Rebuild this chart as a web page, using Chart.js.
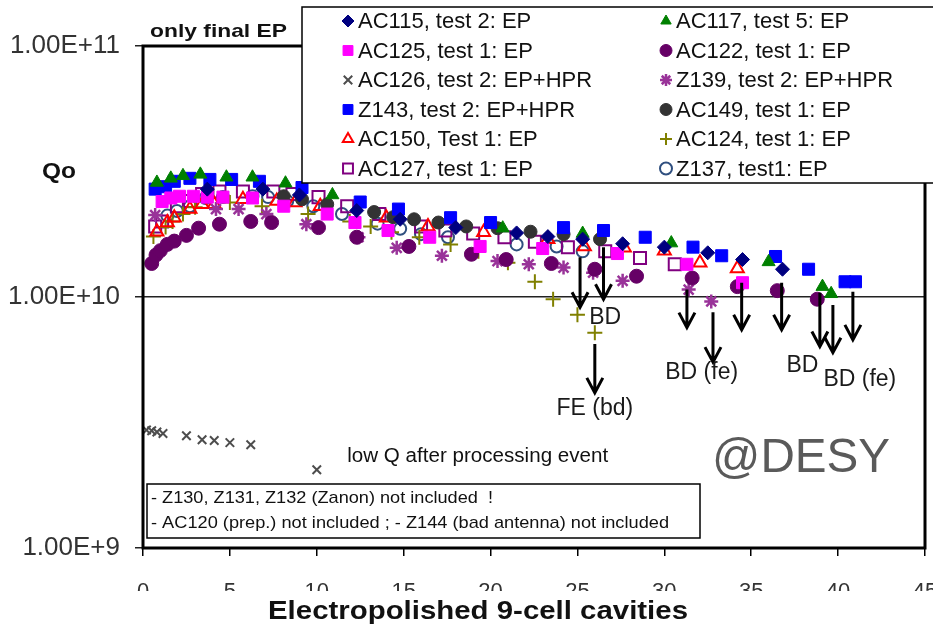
<!DOCTYPE html>
<html>
<head>
<meta charset="utf-8">
<script src="https://cdn.jsdelivr.net/npm/chart.js@4.4.1/dist/chart.umd.min.js"></script>
<style>
html,body{margin:0;padding:0;background:#fff;}
</style>
</head>
<body>
<canvas id="c" width="933" height="629"></canvas>
<script>
// Q0 vs Eacc [MV/m] for each cavity test: [Eacc, Q0]
const AC115 = [[3.7,2.69e10],[6.9,2.69e10],[9.0,2.55e10],[12.3,2.21e10],[14.8,2.04e10],[18.0,1.89e10],[21.5,1.80e10],[23.3,1.74e10],[25.3,1.70e10],[27.6,1.63e10],[30.0,1.58e10],[32.5,1.50e10],[34.5,1.41e10],[36.8,1.29e10]];
const AC117 = [[0.8,2.86e10],[1.6,2.97e10],[2.3,3.04e10],[3.3,3.08e10],[4.8,3.0e10],[6.3,3.0e10],[8.2,2.84e10],[10.9,2.55e10],[20.7,1.88e10],[25.3,1.79e10],[30.4,1.64e10],[36.0,1.38e10],[39.1,1.10e10],[39.6,1.03e10]];
const AC125 = [[1.1,2.40e10],[1.6,2.48e10],[2.1,2.52e10],[2.9,2.52e10],[3.7,2.50e10],[4.6,2.50e10],[6.3,2.48e10],[8.1,2.30e10],[10.6,2.14e10],[12.2,1.98e10],[14.1,1.84e10],[16.5,1.73e10],[19.4,1.59e10],[23.0,1.56e10],[27.3,1.49e10],[31.3,1.35e10],[34.5,1.14e10]];
const AC122 = [[0.5,1.36e10],[0.75,1.47e10],[1.0,1.53e10],[1.4,1.62e10],[1.8,1.67e10],[2.5,1.76e10],[3.2,1.88e10],[4.4,1.95e10],[6.2,2.0e10],[7.4,1.98e10],[10.1,1.89e10],[12.3,1.73e10],[15.3,1.59e10],[18.9,1.48e10],[20.9,1.41e10],[23.5,1.36e10],[26.0,1.29e10],[28.4,1.21e10],[31.6,1.19e10],[34.2,1.10e10],[36.5,1.06e10],[38.8,9.8e9]];
const AC126 = [[0.2,2.95e9],[0.5,2.93e9],[0.8,2.90e9],[1.15,2.86e9],[2.5,2.80e9],[3.4,2.70e9],[4.1,2.68e9],[5.0,2.63e9],[6.2,2.58e9],[10.0,2.05e9]];
const Z139 = [[0.7,2.12e10],[4.2,2.24e10],[5.5,2.24e10],[7.1,2.14e10],[9.4,1.95e10],[12.4,1.73e10],[14.6,1.57e10],[17.2,1.46e10],[20.4,1.39e10],[22.2,1.35e10],[24.2,1.31e10],[25.9,1.25e10],[27.6,1.16e10],[31.4,1.07e10],[32.7,9.6e9]];
const Z143 = [[0.7,2.69e10],[1.3,2.75e10],[1.8,2.89e10],[2.7,2.97e10],[3.85,2.94e10],[5.1,2.94e10],[6.7,2.89e10],[9.15,2.73e10],[12.5,2.39e10],[14.7,2.24e10],[17.7,2.07e10],[20.0,1.98e10],[24.2,1.89e10],[26.5,1.84e10],[28.9,1.73e10],[31.65,1.58e10],[33.3,1.46e10],[36.4,1.45e10],[38.3,1.29e10],[40.4,1.15e10],[41.0,1.15e10]];
const AC149 = [[8.1,2.52e10],[9.15,2.45e10],[10.6,2.34e10],[13.3,2.18e10],[14.4,2.08e10],[15.6,2.04e10],[17.0,1.98e10],[18.6,1.91e10],[20.4,1.88e10],[22.3,1.82e10],[24.2,1.78e10],[26.3,1.70e10]];
const AC150 = [[0.8,1.82e10],[1.4,1.98e10],[1.8,2.07e10],[2.7,2.24e10],[3.4,2.34e10],[4.1,2.34e10],[5.75,2.45e10],[7.7,2.41e10],[8.75,2.38e10],[10.2,2.30e10],[14.0,2.07e10],[16.4,1.91e10],[19.6,1.81e10],[23.3,1.70e10],[25.4,1.59e10],[27.7,1.57e10],[30.0,1.53e10],[32.05,1.37e10],[34.2,1.30e10]];
const AC124 = [[0.6,1.74e10],[1.3,1.90e10],[1.7,2.0e10],[2.3,2.14e10],[3.0,2.28e10],[5.0,2.38e10],[6.85,2.30e10],[9.5,2.14e10],[11.9,2.0e10],[13.1,1.91e10],[14.3,1.81e10],[15.9,1.73e10],[17.7,1.62e10],[19.3,1.52e10],[21.0,1.37e10],[22.55,1.15e10],[23.6,9.8e9],[25.0,8.5e9],[26.0,7.2e9]];
const AC127 = [[0.7,1.91e10],[1.1,2.0e10],[1.95,2.30e10],[2.7,2.41e10],[3.4,2.57e10],[4.4,2.63e10],[5.75,2.63e10],[7.5,2.63e10],[8.6,2.57e10],[10.1,2.50e10],[11.75,2.30e10],[13.6,2.14e10],[16.0,1.91e10],[17.4,1.84e10],[19.0,1.79e10],[20.8,1.73e10],[22.55,1.66e10],[24.45,1.58e10],[26.6,1.52e10],[28.6,1.43e10],[30.6,1.35e10]];
const Z137 = [[1.4,2.11e10],[1.95,2.20e10],[2.7,2.30e10],[3.6,2.48e10],[4.6,2.50e10],[6.3,2.52e10],[7.2,2.50e10],[8.3,2.41e10],[9.8,2.30e10],[11.45,2.14e10],[13.5,1.96e10],[14.8,1.87e10],[16.0,1.78e10],[17.55,1.73e10],[21.5,1.62e10],[23.8,1.59e10],[25.3,1.52e10]];

const xTicks = [0,5,10,15,20,25,30,35,40,45];
const yTicks = [1e9,1e10,1e11];

// breakdown / field emission markers: [Eacc, Q0 start, Q0 end]
const ARROWS = [[25.15,1.44e10,9.1e9],[26.5,1.58e10,9.8e9],[26.0,6.5e9,4.15e9],[31.3,1.07e10,7.55e9],[32.8,8.7e9,5.5e9],[34.45,1.14e10,7.4e9],[36.75,1.14e10,7.4e9],[38.95,1.04e10,6.35e9],[39.7,9.3e9,6.0e9],[40.85,1.05e10,6.75e9]];
const ARROW_LABELS = [['BD',26.6,8.3e9],['FE (bd)',26.0,3.6e9],['BD (fe)',32.15,5.0e9],['BD',37.95,5.35e9],['BD (fe)',41.25,4.7e9]];

const series = [
  {label:'AC115, test 2: EP',    data:AC115, style:'rectRot',  color:'#000080', fill:true,  r:7},
  {label:'AC117, test 5: EP',    data:AC117, style:'triangle', color:'#008000', fill:true,  r:7.5},
  {label:'AC125, test 1: EP',    data:AC125, style:'rect',     color:'#ff00ff', fill:true,  r:8.5},
  {label:'AC122, test 1: EP',    data:AC122, style:'circle',   color:'#660066', fill:true,  r:7},
  {label:'AC126, test 2: EP+HPR',data:AC126, style:'crossRot', color:'#4d4d4d', fill:false, r:6, bw:2},
  {label:'Z139, test 2: EP+HPR', data:Z139,  style:'star',     color:'#993399', fill:false, r:7, bw:2.5},
  {label:'Z143, test 2: EP+HPR', data:Z143,  style:'rect',     color:'#0000ff', fill:true,  r:8.5},
  {label:'AC149, test 1: EP',    data:AC149, style:'circle',   color:'#333333', fill:true,  r:6.5},
  {label:'AC150, Test 1: EP',    data:AC150, style:'triangle', color:'#ff0000', fill:false, r:7.5, bw:2},
  {label:'AC124, test 1: EP',    data:AC124, style:'cross',    color:'#808000', fill:false, r:7.5, bw:2},
  {label:'AC127, test 1: EP',    data:AC127, style:'rect',     color:'#800080', fill:false, r:8.5, bw:2},
  {label:'Z137, test1: EP',      data:Z137,  style:'circle',   color:'#2f4f7f', fill:false, r:6, bw:2}
];

function fitText(ctx, str, x, y, width, align){
  const k = width / ctx.measureText(str).width;
  ctx.save();
  ctx.translate(x, y);
  ctx.scale(k, 1);
  ctx.textAlign = align || 'left';
  ctx.fillText(str, 0, 0);
  ctx.restore();
}

function marker(ctx, s, x, y, r){
  ctx.fillStyle = s.fill ? s.color : 'rgba(0,0,0,0)';
  ctx.strokeStyle = s.color;
  ctx.lineWidth = s.bw || 1;
  Chart.helpers.drawPoint(ctx, {pointStyle:s.style, radius:r, rotation:0, borderWidth:s.bw || 1}, x, y);
}

const overlay = {
  id:'overlay',
  afterDatasetsDraw(chart){
    const {ctx, scales:{x, y}} = chart;
    ctx.save();
    ctx.strokeStyle = '#000';
    ctx.lineWidth = 3;
    ARROWS.forEach(([e, q0, q1]) => {
      const px = x.getPixelForValue(e), y0 = y.getPixelForValue(q0), y1 = y.getPixelForValue(q1);
      ctx.beginPath();
      ctx.moveTo(px, y0); ctx.lineTo(px, y1);
      ctx.moveTo(px - 8, y1 - 15); ctx.lineTo(px, y1); ctx.lineTo(px + 8, y1 - 15);
      ctx.stroke();
    });
    ctx.fillStyle = '#1a1a1a';
    ctx.font = '23px Arial, "Liberation Sans"';
    ctx.textAlign = 'center';
    ctx.textBaseline = 'middle';
    ARROW_LABELS.forEach(([t, e, q]) => ctx.fillText(t, x.getPixelForValue(e), y.getPixelForValue(q)));
    ctx.textBaseline = 'alphabetic';
    ctx.fillStyle = '#111';
    ctx.font = '20px Arial, "Liberation Sans"';
    fitText(ctx, 'low Q after processing event', x.getPixelForValue(11.75), 462, 261);
    ctx.fillStyle = '#5a5a5a';
    ctx.font = '48px Arial, "Liberation Sans"';
    fitText(ctx, '@DESY', x.getPixelForValue(32.75), 472, 178);
    ctx.restore();
  },
  afterDraw(chart){
    const {ctx, chartArea:a} = chart;
    ctx.save();
    // thick plot frame
    ctx.strokeStyle = '#000';
    ctx.lineWidth = 3;
    ctx.strokeRect(a.left, a.top, a.right - a.left, a.bottom - a.top);
    // lower part of the x tick labels is cut off
    ctx.fillStyle = '#fff';
    ctx.fillRect(100, 591, 833, 7);

    ctx.fillStyle = '#111';
    ctx.font = 'bold 25px Arial, "Liberation Sans"';
    fitText(ctx, 'Electropolished 9-cell cavities', 478, 619, 420, 'center');
    ctx.font = 'bold 22px Arial, "Liberation Sans"';
    fitText(ctx, 'Qo', 42, 178, 34);
    ctx.font = 'bold 19px Arial, "Liberation Sans"';
    fitText(ctx, 'only final EP', 150, 37, 137);

    // notes box
    ctx.fillStyle = '#fff';
    ctx.fillRect(147, 484, 553, 54);
    ctx.lineWidth = 1.5;
    ctx.strokeRect(147, 484, 553, 54);
    ctx.fillStyle = '#111';
    ctx.font = '17px Arial, "Liberation Sans"';
    fitText(ctx, '- Z130, Z131, Z132 (Zanon) not included  !', 151, 503, 342);
    fitText(ctx, '- AC120 (prep.) not included ; - Z144 (bad antenna) not included', 151, 528, 518);

    // legend, two columns
    ctx.fillStyle = '#fff';
    ctx.fillRect(302, 7, 660, 176);
    ctx.strokeStyle = '#000';
    ctx.lineWidth = 1.5;
    ctx.strokeRect(302, 7, 660, 176);
    ctx.font = '22px Arial, "Liberation Sans"';
    ctx.textBaseline = 'middle';
    series.forEach((s, i) => {
      const col = i % 2, row = Math.floor(i / 2);
      const mx = col ? 666 : 348, my = 21 + row * 29.5;
      marker(ctx, s, mx, my, s.style === 'rect' ? 7 : 6);
      ctx.fillStyle = '#111';
      ctx.textAlign = 'left';
      ctx.fillText(s.label, mx + 10, my + 1);
    });
    ctx.restore();
  }
};

new Chart(document.getElementById('c'), {
  type:'scatter',
  data:{
    datasets:series.map(s => ({
      label:s.label,
      data:s.data.map(([e, q]) => ({x:e, y:q})),
      pointStyle:s.style,
      pointRadius:s.r,
      pointHoverRadius:s.r,
      backgroundColor:s.fill ? s.color : 'rgba(0,0,0,0)',
      borderColor:s.color,
      borderWidth:s.bw || 1
    }))
  },
  options:{
    responsive:false,
    animation:false,
    devicePixelRatio:1,
    layout:{autoPadding:false, padding:{top:46, right:8, left:0, bottom:0}},
    plugins:{legend:{display:false}, tooltip:{enabled:false}},
    scales:{
      x:{
        type:'linear', min:0, max:45,
        afterBuildTicks:s => { s.ticks = xTicks.map(v => ({value:v})); },
        afterFit:s => { s.height = 81; s.paddingLeft = 0; s.paddingRight = 0; },
        ticks:{font:{size:22, family:'Arial, "Liberation Sans"'}, color:'#333', padding:23, maxRotation:0, autoSkip:false},
        grid:{drawOnChartArea:false, tickLength:8, color:'#000', lineWidth:1.5},
        border:{display:false}
      },
      y:{
        type:'logarithmic', min:1e9, max:1e11,
        afterBuildTicks:s => { s.ticks = yTicks.map(v => ({value:v})); },
        afterFit:s => { s.width = 143; s.paddingTop = 0; s.paddingBottom = 0; },
        ticks:{callback:v => Number(v).toExponential(2).toUpperCase(), font:{size:26, family:'Arial, "Liberation Sans"'}, color:'#333', padding:15},
        grid:{color:'#222', lineWidth:1.5, tickLength:8},
        border:{display:false}
      }
    }
  },
  plugins:[overlay]
});
</script>
</body>
</html>
